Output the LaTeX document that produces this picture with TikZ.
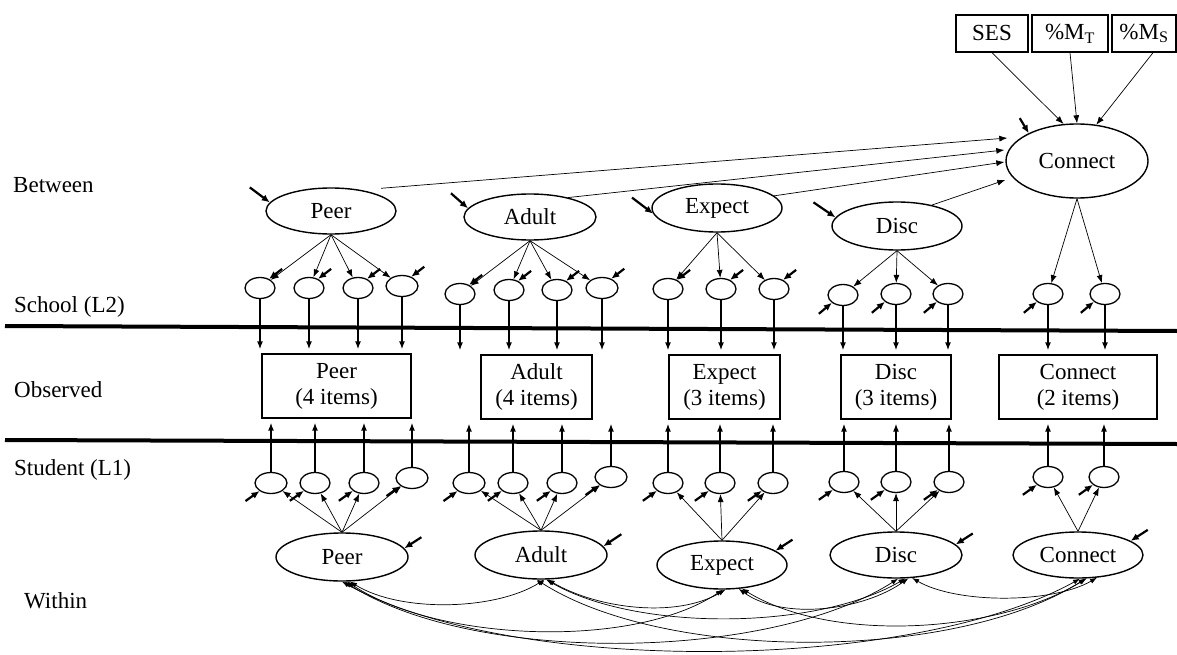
\documentclass[tikz,border=0pt]{standalone}
\usepackage{fontspec}
\setmainfont{Liberation Serif}
\usetikzlibrary{shapes.geometric,arrows.meta,calc}
\begin{document}
\begin{tikzpicture}[x=1pt,y=-1pt,
  font=\fontsize{23}{26}\selectfont,
  latent/.style 2 args={ellipse,draw,line width=1.4pt,inner sep=0pt,minimum width=#1,minimum height=#2},
  resvar/.style={ellipse,draw,line width=1.3pt,inner sep=0pt,minimum width=#1,minimum height=21pt},
  resvar/.default=30pt,
  observed/.style={draw,line width=1.3pt,align=center,inner sep=0pt,minimum width=#1,minimum height=64pt},
  covbox/.style={draw,line width=1.4pt,inner sep=0pt,minimum width=#1,minimum height=37pt},
  load/.style={-{Latex[length=8pt,width=6pt]},line width=0.7pt},
  indic/.style={-{Latex[length=8pt,width=6pt]},line width=1.4pt,shorten >=4pt},
  dist/.style={-{Latex[length=8pt,width=7pt]},line width=2.2pt},
  covar/.style={{Latex[length=7pt,width=5pt]}-{Latex[length=7pt,width=5pt]},line width=0.7pt},
  levellabel/.style={anchor=base west,inner sep=0pt},
  divider/.style={line width=4pt}
]
\useasboundingbox (0,0) rectangle (1177,655);

% level labels
\node[levellabel] (lbBetween) at (13,193) {Between};
\node[levellabel] (lbSchool)  at (14,312) {School (L2)};
\node[levellabel] (lbObs)     at (14,397) {Observed};
\node[levellabel] (lbStudent) at (14,475) {Student (L1)};
\node[levellabel] (lbWithin)  at (24,608) {Within};

% dividers between levels
\coordinate (dTopL) at (5,326);  \coordinate (dTopR) at (1177,331);
\coordinate (dBotL) at (5,440);  \coordinate (dBotR) at (1177,444);
\draw[divider] (dTopL) -- (dTopR);
\draw[divider] (dBotL) -- (dBotR);

% school-level covariates
\node[covbox=72pt] (tS) at (992,33.5) {SES};
\node[covbox=76pt] (tM) at (1070,33.5) {\%M\textsubscript{T}};
\node[covbox=64pt] (tN) at (1144,33.5) {\%M\textsubscript{S}};

% between-level latent factors
\node[latent={130pt}{46pt}] (bP) at (331,211) {Peer};
\node[latent={132pt}{46pt}] (bA) at (530,217) {Adult};
\node[latent={130pt}{48pt}] (bE) at (717,208) {Expect};
\node[latent={130pt}{48pt}] (bD) at (897,226) {Disc};
\node[latent={142pt}{74pt}] (bC) at (1077,161) {Connect};

% within-level latent factors
\node[latent={132pt}{48pt}] (wP) at (342,557) {Peer};
\node[latent={132pt}{48pt}] (wA) at (541,555) {Adult};
\node[latent={130pt}{48pt}] (wE) at (722,565) {Expect};
\node[latent={132pt}{46pt}] (wD) at (896,555) {Disc};
\node[latent={130pt}{46pt}] (wC) at (1078,555) {Connect};

% observed indicator blocks
\node[observed=149pt] (oP) at (336.5,386) {Peer\\(4 items)};
\node[observed=111pt] (oA) at (536.5,387) {Adult\\(4 items)};
\node[observed=111pt] (oE) at (724.5,387) {Expect\\(3 items)};
\node[observed=110pt] (oD) at (896,387) {Disc\\(3 items)};
\node[observed=158pt] (oC) at (1078,387) {Connect\\(2 items)};

% school-level (L2) item components
\node[resvar] (pP1) at (260,288) {};
\node[resvar] (pP2) at (309,288) {};
\node[resvar] (pP3) at (358,288) {};
\node[resvar=32pt] (pP4) at (402,286) {};
\node[resvar] (pA1) at (460,294) {};
\node[resvar] (pA2) at (509,290) {};
\node[resvar] (pA3) at (557,290) {};
\node[resvar=32pt] (pA4) at (602,288) {};
\node[resvar] (pE1) at (668,289) {};
\node[resvar] (pE2) at (721,289) {};
\node[resvar] (pE3) at (774,289) {};
\node[resvar] (pD1) at (843,295) {};
\node[resvar] (pD2) at (896,294) {};
\node[resvar] (pD3) at (948,294) {};
\node[resvar] (pC1) at (1048,294) {};
\node[resvar] (pC2) at (1105,294) {};

% student-level (L1) item components
\node[resvar=32pt] (qP1) at (271,483) {};
\node[resvar] (qP2) at (315,483) {};
\node[resvar] (qP3) at (364,483) {};
\node[resvar=32pt] (qP4) at (412,478) {};
\node[resvar=32pt] (qA1) at (469,483) {};
\node[resvar] (qA2) at (513,483) {};
\node[resvar] (qA3) at (562,483) {};
\node[resvar=32pt] (qA4) at (611,477) {};
\node[resvar] (qE1) at (668,483) {};
\node[resvar] (qE2) at (720,483) {};
\node[resvar] (qE3) at (773,483) {};
\node[resvar] (qD1) at (844,482) {};
\node[resvar] (qD2) at (896,482) {};
\node[resvar] (qD3) at (949,482) {};
\node[resvar] (qC1) at (1048,477) {};
\node[resvar] (qC2) at (1104,477) {};

% covariates -> between Connect
\draw[load] (tS.south) -- (bC.110);
\draw[load] (tM.south) -- (bC.90);
\draw[load] ([xshift=9pt]tN.south) -- (bC.62);
\draw[dist] ([shift={(-9,-15)}]bC.150) -- (bC.150);

% between factors -> Connect
\draw[load] ([shift={(50,1)}]bP.north) -- ([shift={(2,-23)}]bC.west);
\draw[load] (bA.27) -- ([shift={(-1,-11)}]bC.west);
\draw[load] (bE.12) -- ([shift={(-1,1)}]bC.west);
\draw[load] (bD.31) -- ([shift={(0,19)}]bC.west);

% between disturbances
\draw[dist] ([shift={(-20,-15)}]bP.172) -- (bP.172);
\draw[dist] ([shift={(-17,-15)}]bA.172) -- (bA.172);
\draw[dist] ([shift={(-21,-16)}]bE.185) -- (bE.185);
\draw[dist] ([shift={(-22,-15)}]bD.172) -- (bD.172);

% between loadings
\foreach \i in {1,...,4} \draw[load] (bP.south) -- (pP\i);
\foreach \i in {1,...,4} \draw[load] (bA.south) -- (pA\i);
\foreach \i in {1,...,3} \draw[load] (bE.south) -- (pE\i);
\foreach \i in {1,...,3} \draw[load] (bD.south) -- (pD\i);
\foreach \i in {1,2} \draw[load] (bC.south) -- (pC\i);

% L2 residuals
\foreach \n in {pP1,pP2,pP3,pP4,pA1,pA2,pA3,pA4,pE1,pE2,pE3}
  \draw[dist] ([shift={(13,-10)}]\n.45) -- (\n.45);
\foreach \n in {pD1,pD2,pD3,pC1,pC2}
  \draw[dist] ([shift={(-13,11)}]\n.215) -- (\n.215);

% L2 components -> observed items
\foreach \g/\k in {P/4,A/4,E/3,D/3,C/2}
  \foreach \i in {1,...,\k}
    \draw[indic] (p\g\i.south) -- (p\g\i.south |- o\g.north);

% L1 components -> observed items
\foreach \g/\k in {P/4,A/4,E/3,D/3,C/2}
  \foreach \i in {1,...,\k}
    \draw[indic] (q\g\i.north) -- (q\g\i.north |- o\g.south);

% L1 residuals
\foreach \g/\k in {P/4,A/4,E/3,D/3,C/2}
  \foreach \i in {1,...,\k}
    \draw[dist] ([shift={(-14,10)}]q\g\i.215) -- (q\g\i.215);

% within loadings
\foreach \i in {1,...,4} \draw[load] (wP.north) -- (qP\i);
\foreach \i in {1,...,4} \draw[load] (wA.north) -- (qA\i);
\foreach \i in {1,...,3} \draw[load] (wE.north) -- (qE\i);
\foreach \i in {1,...,3} \draw[load] (wD.north) -- (qD\i);
\foreach \i in {1,2} \draw[load] (wC.north) -- (qC\i);

% within disturbances
\draw[dist] ([shift={(17,-11)}]wP.8) -- (wP.8);
\draw[dist] ([shift={(18,-12)}]wA.8) -- (wA.8);
\draw[dist] ([shift={(17,-11)}]wE.15) -- (wE.15);
\draw[dist] ([shift={(17,-11)}]wD.10) -- (wD.10);
\draw[dist] ([shift={(17,-11)}]wC.15) -- (wC.15);

% within factor covariances
\draw[covar] (wP.-72) .. controls ($(wP.-72)+(50,31)$) and ($(wA.-82)+(-50,31)$) .. (wA.-82);
\draw[covar] (wP.-78) .. controls ($(wP.-78)+(90,60)$) and ($(wE.-88)+(-90,60)$) .. (wE.-88);
\draw[covar] (wP.-84) .. controls ($(wP.-84)+(130,83)$) and ($(wD.-85)+(-130,83)$) .. (wD.-85);
\draw[covar] (wP.-90) .. controls ($(wP.-90)+(170,94)$) and ($(wC.-85)+(-170,94)$) .. (wC.-85);
\draw[covar] (wA.-75) .. controls ($(wA.-75)+(50,29)$) and ($(wE.-82)+(-50,29)$) .. (wE.-82);
\draw[covar] (wA.-78) .. controls ($(wA.-78)+(90,52)$) and ($(wD.-68)+(-90,52)$) .. (wD.-68);
\draw[covar] (wA.-100) .. controls ($(wA.-100)+(130,83)$) and ($(wC.-72)+(-130,83)$) .. (wC.-72);
\draw[covar] (wE.-55) .. controls ($(wE.-55)+(45,32)$) and ($(wD.-62)+(-45,32)$) .. (wD.-62);
\draw[covar] (wE.-50) .. controls ($(wE.-50)+(90,55)$) and ($(wC.-70)+(-90,55)$) .. (wC.-70);
\draw[covar] (wD.-55) .. controls ($(wD.-55)+(45,26)$) and ($(wC.-50)+(-45,26)$) .. (wC.-50);
\end{tikzpicture}
\end{document}
